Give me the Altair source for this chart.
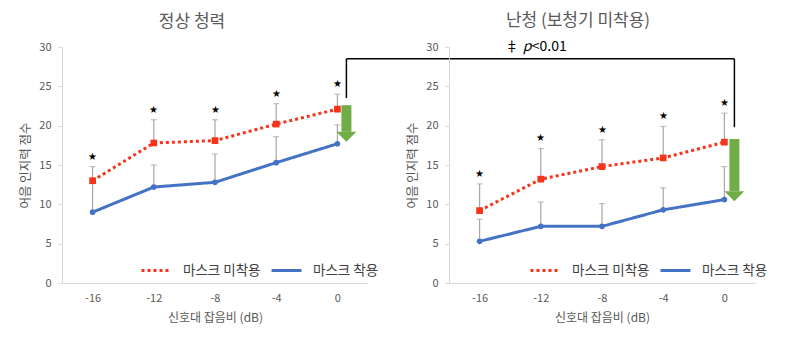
import altair as alt
import pandas as pd

FONT = "Noto Sans CJK KR"
RED = "#f7331a"
BLUE = "#4472c4"
GREEN = "#70ad47"
GREY_TXT = "#595959"
ERR = "#a6a6a6"

# ---- data ----
snr = ["-16", "-12", "-8", "-4", "0"]
series = ["마스크 미착용", "마스크 착용"]

normal_unmasked = [13.0, 17.8, 18.1, 20.2, 22.1]
normal_unmasked_err = [1.8, 2.95, 2.65, 2.6, 1.9]
normal_masked = [9.0, 12.2, 12.8, 15.3, 17.7]
normal_masked_err = [4.0, 2.8, 3.6, 3.3, 2.4]

hl_unmasked = [9.2, 13.2, 14.8, 15.9, 17.9]
hl_unmasked_err = [3.4, 3.9, 3.4, 4.0, 3.7]
hl_masked = [5.3, 7.2, 7.2, 9.3, 10.6]
hl_masked_err = [2.8, 3.1, 2.9, 2.8, 4.2]

panel_titles = ["정상 청력", "난청 (보청기 미착용)"]
arrow_top = [22.6, 18.3]
arrow_tip = [17.95, 10.4]
bracket_y = 28.5
bracket_bottom = [23.5, 19.8]
p_label_y = 30

W, H = 306, 236
SPACING = 81


def panel_df(unm, unm_err, msk, msk_err):
    rows = []
    for i, s in enumerate(snr):
        rows.append(dict(snr=s, series=series[0], mean=unm[i], top=unm[i] + unm_err[i]))
        rows.append(dict(snr=s, series=series[1], mean=msk[i], top=msk[i] + msk_err[i]))
    return pd.DataFrame(rows)


xscale = alt.Scale(type="point", domain=snr, padding=0.5)
yscale = alt.Scale(domain=[0, 30], nice=False)
xaxis = alt.Axis(title="신호대 잡음비 (dB)", labelAngle=0, ticks=False, domainColor="#d9d9d9",
                 labelColor=GREY_TXT, titleColor=GREY_TXT, labelFontSize=11, titleFontSize=12,
                 labelFont=FONT, titleFont=FONT, titleFontWeight="normal", labelPadding=9,
                 titlePadding=9, grid=False)
yaxis = alt.Axis(title="어음 인지력 점수", values=[0, 5, 10, 15, 20, 25, 30], tickSize=4,
                 tickColor="#d9d9d9", domainColor="#d9d9d9", labelColor=GREY_TXT,
                 titleColor=GREY_TXT, labelFontSize=11, titleFontSize=12.5, labelFont=FONT,
                 titleFont=FONT, titleFontWeight="normal", labelPadding=7, titlePadding=6,
                 grid=False)


def X(field="snr"):
    return alt.X(f"{field}:N", scale=xscale, axis=xaxis, sort=snr)


def Y(field):
    return alt.Y(f"{field}:Q", scale=yscale, axis=yaxis)


color_scale = alt.Scale(domain=series, range=[RED, BLUE])
dash_scale = alt.Scale(domain=series, range=[[3, 3], [1, 0]])


def make_panel(idx, df, legend_x):
    legend = alt.Legend(title=None, orient="none", legendX=legend_x, legendY=207,
                        direction="horizontal", symbolType="stroke", symbolStrokeWidth=3,
                        symbolSize=900, labelFontSize=13.5, labelColor="#404040",
                        labelFont=FONT, columnPadding=4, labelOffset=10)
    base = alt.Chart(df)
    err = base.mark_rule(color=ERR, strokeWidth=1.2).encode(x=X(), y=Y("mean"), y2="top:Q")
    caps = base.mark_tick(color=ERR, thickness=1.2, size=6, orient="horizontal").encode(
        x=X(), y=Y("top"))
    lines = base.mark_line(strokeWidth=3).encode(
        x=X(), y=Y("mean"),
        color=alt.Color("series:N", scale=color_scale, legend=legend, sort=series),
        strokeDash=alt.StrokeDash("series:N", scale=dash_scale, legend=legend, sort=series),
    )
    red_pts = base.transform_filter(alt.datum.series == series[0]).mark_point(
        shape="square", filled=True, size=45, color=RED, opacity=1).encode(x=X(), y=Y("mean"))
    blue_pts = base.transform_filter(alt.datum.series == series[1]).mark_point(
        shape="circle", filled=True, size=32, color=BLUE, opacity=1).encode(x=X(), y=Y("mean"))
    stars = base.transform_filter(alt.datum.series == series[0]).mark_text(
        text="★", fontSize=10, color="black", dy=-10, baseline="middle").encode(x=X(), y=Y("top"))

    adf = pd.DataFrame([dict(snr=snr[-1], top=arrow_top[idx], tip=arrow_tip[idx],
                             btop=bracket_y, bbot=bracket_bottom[idx], py=p_label_y)])
    aoff = 9 if idx == 0 else 10
    abase = alt.Chart(adf)
    shaft = abase.mark_rule(color=GREEN, strokeWidth=10, xOffset=aoff, y2Offset=-10).encode(
        x=X(), y=Y("top"), y2="tip:Q")
    head = abase.mark_point(shape="M-1,-1L1,-1L0,0Z", size=400, filled=True, color=GREEN,
                            opacity=1, xOffset=aoff).encode(x=X(), y=Y("tip"))
    bvert = abase.mark_rule(color="black", strokeWidth=1.5, xOffset=aoff).encode(
        x=X(), y=Y("btop"), y2="bbot:Q")
    layers = [err, caps, lines, red_pts, blue_pts, stars, shaft, head, bvert]
    if idx == 0:
        right_x = (W + SPACING) + 0.9 * W + 10
        bhor = abase.mark_rule(color="black", strokeWidth=1.5, xOffset=aoff).encode(
            x=X(), x2=alt.value(right_x), y=Y("btop"))
        layers.append(bhor)
    else:
        pdf = pd.DataFrame([dict(snr=snr[1], py=p_label_y)])
        pbase = alt.Chart(pdf)
        t1 = pbase.mark_text(text="‡", align="right", fontSize=14, font=FONT, color="black",
                             dx=-22).encode(x=X(), y=Y("py"))
        t2 = pbase.mark_text(text="p", align="left", fontSize=14, font=FONT, color="black",
                             fontStyle="italic", dx=-18).encode(x=X(), y=Y("py"))
        t3 = pbase.mark_text(text="<0.01", align="left", fontSize=14, font=FONT, color="black",
                             dx=-9).encode(x=X(), y=Y("py"))
        layers += [t1, t2, t3]
    dx = -23 if idx == 0 else -24
    return alt.layer(*layers).properties(
        width=W, height=H,
        title=alt.TitleParams(panel_titles[idx], fontSize=17, font=FONT, color=GREY_TXT,
                              fontWeight="normal", anchor="middle", dx=dx, offset=10),
    )


left = make_panel(0, panel_df(normal_unmasked, normal_unmasked_err, normal_masked,
                              normal_masked_err), 78)
right = make_panel(1, panel_df(hl_unmasked, hl_unmasked_err, hl_masked, hl_masked_err), 80)

chart = alt.hconcat(left, right, spacing=SPACING, bounds="flush").resolve_scale(
    color="independent", strokeDash="independent"
).resolve_legend(color="independent", strokeDash="independent").properties(
    padding={"left": 11, "top": 4, "right": 5, "bottom": 5}
).configure_view(strokeWidth=0)

chart.save("out.html", embed_options={"renderer": "svg", "actions": False})
